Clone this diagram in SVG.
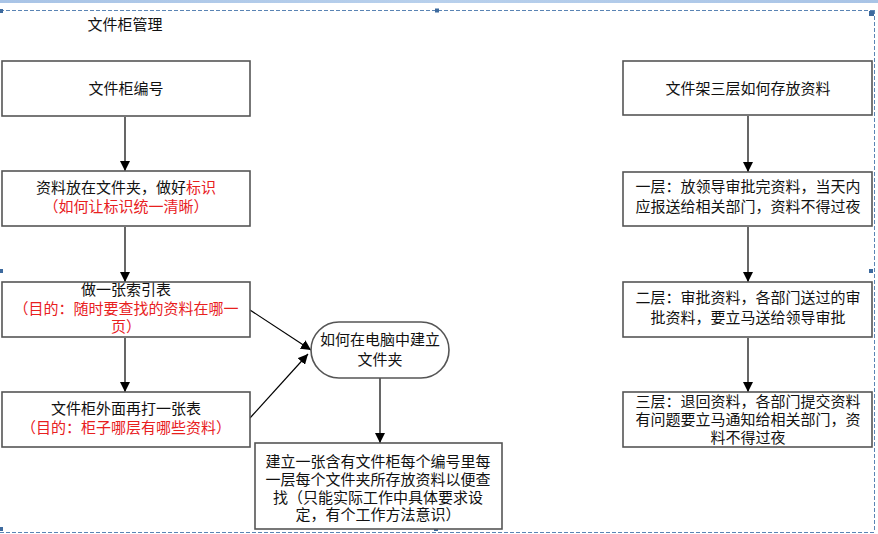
<svg xmlns="http://www.w3.org/2000/svg" width="878" height="534" viewBox="0 0 878 534">
<defs>
<linearGradient id="band" x1="0" y1="0" x2="1" y2="0">
<stop offset="0" stop-color="#a9c4e6"/><stop offset="0.5" stop-color="#b8d0ec"/><stop offset="1" stop-color="#a9c4e6"/>
</linearGradient>
<marker id="arr" viewBox="0 0 10 10" refX="10" refY="5" markerWidth="10" markerHeight="10" markerUnits="userSpaceOnUse" orient="auto">
<path d="M0,0 L10,5 L0,10 z" fill="#000"/>
</marker>
</defs>
<style>
.box{fill:#fff;stroke:#555;stroke-width:1.6}
.t{font-family:"Noto Sans CJK SC","Liberation Sans",sans-serif;font-size:15px;fill:#111;text-anchor:middle}
.r{fill:#e8201e}
.c{stroke:#000;stroke-width:1.2;fill:none;marker-end:url(#arr)}
.frame{stroke:#5a84b4;stroke-width:1;stroke-dasharray:4,2;fill:none}
.h{fill:#3d6a9e}
</style>
<rect width="878" height="534" fill="#fff"/>
<rect x="0" y="0" width="878" height="3" fill="url(#band)"/>
<g id="frame">
<path class="frame" d="M0,10.5 H874 M874.5,10 V532 M0,532.5 H874"/>
<rect class="h" x="0" y="9" width="3" height="4"/>
<rect class="h" x="435" y="8.5" width="4" height="4"/>
<rect class="h" x="869" y="11" width="5" height="5"/>
<rect class="h" x="869" y="269" width="4" height="4"/>
<rect class="h" x="0" y="269" width="3" height="4"/>
<rect class="h" x="0" y="527" width="3" height="4"/>
<rect class="h" x="434" y="527" width="4" height="4"/>
</g>
<g id="title"><text class="t" x="125" y="30">文件柜管理</text></g>

<g id="connectors">
<line class="c" x1="125" y1="117" x2="125" y2="171"/>
<line class="c" x1="125" y1="227" x2="125" y2="282"/>
<line class="c" x1="125" y1="338" x2="125" y2="392"/>
<line class="c" x1="250" y1="310" x2="311" y2="350"/>
<line class="c" x1="250" y1="418" x2="308" y2="354"/>
<line class="c" x1="380" y1="378" x2="380" y2="443"/>
<line class="c" x1="748" y1="116" x2="748" y2="172"/>
<line class="c" x1="748" y1="227" x2="748" y2="282"/>
<line class="c" x1="748" y1="338" x2="748" y2="392"/>
</g>

<g id="n1"><rect class="box" x="2" y="61" width="248" height="55"/>
<text class="t" x="126" y="94">文件柜编号</text></g>

<g id="n2"><rect class="box" x="2" y="171" width="248" height="55"/>
<text class="t" x="126" y="193">资料放在文件夹，做好<tspan class="r">标识</tspan></text>
<text class="t r" x="126" y="212">（如何让标识统一清晰）</text></g>

<g id="n3"><rect class="box" x="2" y="282" width="248" height="55"/>
<text class="t" x="126" y="295">做一张索引表</text>
<text class="t r" x="126" y="314">（目的：随时要查找的资料在哪一</text>
<text class="t r" x="126" y="332">页）</text></g>

<g id="n4"><rect class="box" x="2" y="392" width="248" height="55"/>
<text class="t" x="126" y="414">文件柜外面再打一张表</text>
<text class="t r" x="126" y="433">（目的：柜子哪层有哪些资料）</text></g>

<g id="n5"><rect class="box" x="311" y="322" width="138" height="56" rx="28" ry="28"/>
<text class="t" x="380" y="345">如何在电脑中建立</text>
<text class="t" x="380" y="365">文件夹</text></g>

<g id="n6"><rect class="box" x="255" y="443" width="247" height="86"/>
<text class="t" x="378" y="467">建立一张含有文件柜每个编号里每</text>
<text class="t" x="378" y="485">一层每个文件夹所存放资料以便查</text>
<text class="t" x="378" y="503">找（只能实际工作中具体要求设</text>
<text class="t" x="378" y="520">定，有个工作方法意识）</text></g>

<g id="n7"><rect class="box" x="623" y="61" width="249" height="54"/>
<text class="t" x="748" y="94">文件架三层如何存放资料</text></g>

<g id="n8"><rect class="box" x="623" y="172" width="249" height="54"/>
<text class="t" x="748" y="192">一层：放领导审批完资料，当天内</text>
<text class="t" x="748" y="212">应报送给相关部门，资料不得过夜</text></g>

<g id="n9"><rect class="box" x="623" y="282" width="249" height="55"/>
<text class="t" x="748" y="303">二层：审批资料，各部门送过的审</text>
<text class="t" x="748" y="323">批资料，要立马送给领导审批</text></g>

<g id="n10"><rect class="box" x="623" y="392" width="249" height="55"/>
<text class="t" x="748" y="407">三层：退回资料，各部门提交资料</text>
<text class="t" x="748" y="425">有问题要立马通知给相关部门，资</text>
<text class="t" x="748" y="443">料不得过夜</text></g>
</svg>
